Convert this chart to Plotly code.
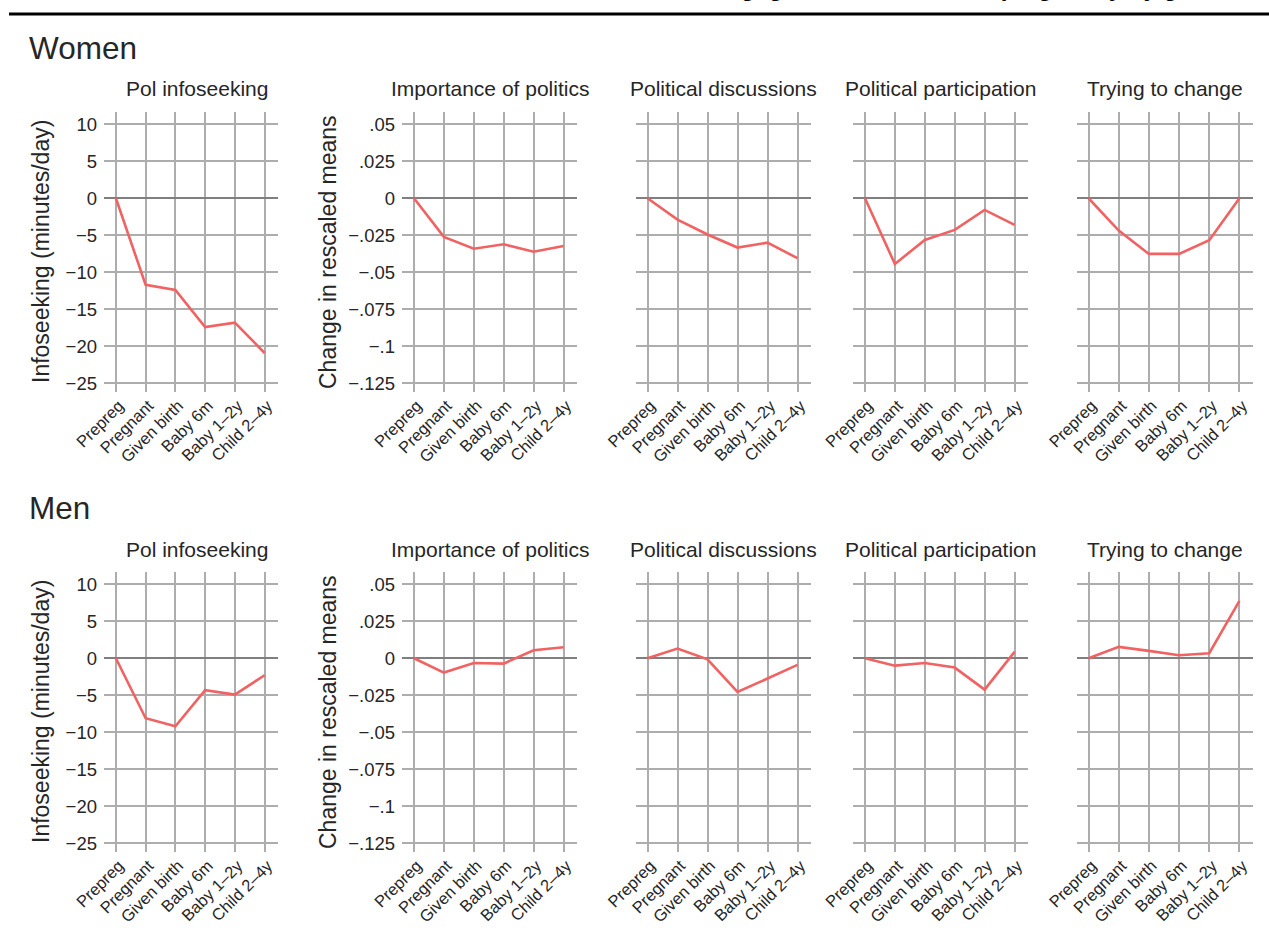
import plotly.graph_objects as go

W, H = 1269, 939

# Categories along the x axis of every panel
stages = ["Prepreg", "Pregnant", "Given birth", "Baby 6m", "Baby 1–2y", "Child 2–4y"]
panel_titles = ["Pol infoseeking", "Importance of politics", "Political discussions",
                "Political participation", "Trying to change"]
row_titles = ["Women", "Men"]

# Women: change relative to the pre-pregnancy baseline
women_infoseeking = [0, -11.7, -12.4, -17.4, -16.8, -20.9]
women_importance = [0, -0.0261, -0.0341, -0.0311, -0.0361, -0.0323]
women_discussions = [0, -0.0144, -0.0245, -0.0333, -0.0300, -0.0405]
women_participation = [0, -0.0444, -0.0282, -0.0214, -0.0079, -0.0180]
women_trying = [0, -0.0218, -0.0376, -0.0376, -0.0284, 0]

# Men: change relative to the pre-pregnancy baseline
men_infoseeking = [0, -8.1, -9.2, -4.3, -4.9, -2.3]
men_importance = [0, -0.0097, -0.0032, -0.0036, 0.0054, 0.0074]
men_discussions = [0, 0.0065, -0.0007, -0.0227, -0.0137, -0.0045]
men_participation = [0, -0.0050, -0.0032, -0.0063, -0.0212, 0.0043]
men_trying = [0, 0.0077, 0.0050, 0.0020, 0.0034, 0.0387]

minutes_ticks = [10, 5, 0, -5, -10, -15, -20, -25]
minutes_labels = ["10", "5", "0", "−5", "−10", "−15", "−20", "−25"]
means_ticks = [0.05, 0.025, 0, -0.025, -0.05, -0.075, -0.1, -0.125]
means_labels = [".05", ".025", "0", "−.025", "−.05", "−.075", "−.1", "−.125"]

rows = [
    [women_infoseeking, women_importance, women_discussions, women_participation, women_trying],
    [men_infoseeking, men_importance, men_discussions, men_participation, men_trying],
]

FONT = "Liberation Sans, Arial, Helvetica, sans-serif"
TEXT = "#262626"
GRID = "#ADADAD"
ZERO = "#7F7F7F"
LINE = "#F16262"

# panel geometry in pixels
col_px = [(104, 278), (402, 577), (635.5, 811), (853, 1028), (1076.5, 1253)]
row_px = [(112, 392), (572, 852)]
row_offset = [0, 460]
title_cx = [197, 489.5, 723, 940.5, 1165]

minutes_range = [-26.17, 11.65]
means_range = [v * 0.005 for v in minutes_range]


def px_x(x):
    return x / W


def px_y(y):
    return 1 - y / H


fig = go.Figure()
layout = dict(
    width=W, height=H,
    margin=dict(l=0, r=0, t=0, b=0),
    paper_bgcolor="white", plot_bgcolor="white",
    showlegend=False,
    font=dict(family=FONT, color=TEXT),
)
annotations = []

k = 0
for r, series in enumerate(rows):
    for c, values in enumerate(series):
        k += 1
        xa = "x" if k == 1 else f"x{k}"
        ya = "y" if k == 1 else f"y{k}"
        fig.add_trace(go.Scatter(
            x=list(range(len(stages))), y=values, mode="lines",
            line=dict(color=LINE, width=2.6), xaxis=xa, yaxis=ya,
            hoverinfo="skip",
        ))
        x0, x1 = col_px[c]
        y0, y1 = row_px[r]
        is_minutes = c == 0
        layout["xaxis" if k == 1 else f"xaxis{k}"] = dict(
            domain=[px_x(x0), px_x(x1)], anchor=ya,
            range=[-0.4, 5.45], tickvals=list(range(len(stages))), ticktext=stages,
            tickangle=-45, tickfont=dict(size=16.5, family=FONT, color=TEXT),
            ticklabelshift=3,
            showgrid=True, gridcolor=GRID, gridwidth=2, zeroline=False,
            showline=False, ticks="", automargin=False, fixedrange=True,
        )
        yax = dict(
            domain=[px_y(y1), px_y(y0)], anchor=xa,
            range=minutes_range if is_minutes else means_range,
            tickvals=minutes_ticks if is_minutes else means_ticks,
            ticktext=minutes_labels if is_minutes else means_labels,
            showticklabels=c < 2, tickfont=dict(size=18.5, family=FONT, color=TEXT),
            ticklabelstandoff=6,
            showgrid=True, gridcolor=GRID, gridwidth=2,
            zeroline=True, zerolinecolor=ZERO, zerolinewidth=2,
            showline=False, ticks="", automargin=False, fixedrange=True,
        )
        layout["yaxis" if k == 1 else f"yaxis{k}"] = yax

        # panel heading
        annotations.append(dict(
            text=panel_titles[c], x=px_x(title_cx[c]), y=px_y(89 + row_offset[r]),
            xref="paper", yref="paper", xanchor="center", yanchor="middle",
            showarrow=False, font=dict(size=21, family=FONT, color=TEXT),
        ))

    # row heading
    annotations.append(dict(
        text=row_titles[r], x=px_x(27), y=px_y(48 + row_offset[r]),
        xref="paper", yref="paper", xanchor="left", yanchor="middle",
        showarrow=False, font=dict(size=31.5, family=FONT, color=TEXT),
    ))
    # y axis titles
    annotations.append(dict(
        text="Infoseeking (minutes/day)", x=px_x(41), y=px_y(252 + row_offset[r]),
        xref="paper", yref="paper", xanchor="center", yanchor="middle",
        textangle=-90, showarrow=False, font=dict(size=23, family=FONT, color=TEXT),
    ))
    annotations.append(dict(
        text="Change in rescaled means", x=px_x(328), y=px_y(252 + row_offset[r]),
        xref="paper", yref="paper", xanchor="center", yanchor="middle",
        textangle=-90, showarrow=False, font=dict(size=23, family=FONT, color=TEXT),
    ))

# figure heading, running off the top edge
annotations.append(dict(
    text="<b>Political engagement around first pregnancy by gender</b>",
    x=px_x(1245), y=px_y(3), xref="paper", yref="paper",
    xanchor="right", yanchor="bottom", showarrow=False,
    font=dict(size=24, family=FONT, color="black"),
))

layout["annotations"] = annotations
layout["shapes"] = [dict(
    type="line", xref="paper", yref="paper",
    x0=px_x(9), x1=1, y0=px_y(14), y1=px_y(14),
    line=dict(color="black", width=3),
)]

fig.update_layout(**layout)
fig.write_html("out.html")
